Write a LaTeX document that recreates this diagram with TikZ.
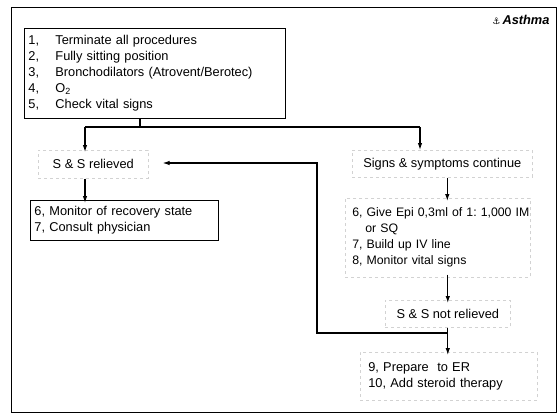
\documentclass[tikz,border=0pt]{standalone}
\usepackage{fontspec}
\setmainfont{Liberation Sans}
\newfontfamily\symfont{DejaVu Sans}
\usetikzlibrary{positioning,arrows.meta}

\begin{document}
\begin{tikzpicture}[
    x=1pt,y=-1pt,
    font=\fontsize{12.8}{16}\selectfont\frenchspacing,
    solidbox/.style={draw,line width=0.9pt,anchor=north west,align=left,inner ysep=0pt},
    faintbox/.style={draw=gray!35,dashed,line width=0.6pt,anchor=north west,align=center,inner sep=0pt},
    flow/.style={line width=1.1pt,-{Latex[length=7pt,width=4.5pt]}},
    link/.style={line width=1.1pt}
  ]
    \useasboundingbox (0,0) rectangle (558,415);
    \draw[line width=1pt] (11,7) rectangle (556,412);
    \node[anchor=east] (title) at (553,20) {{\symfont\small ⚓}\,\textbf{\textit{Asthma}}};

    \node[solidbox,minimum width=261pt,minimum height=90pt,text width=253pt,inner xsep=4pt] (first) at (24,28)
      {\begin{tabular}{@{}p{27pt}@{}l@{}}
        1, & Terminate all procedures\\
        2, & Fully sitting position\\
        3, & Bronchodilators (Atrovent/Berotec)\\
        4, & O\textsubscript{2}\\
        5, & Check vital signs
      \end{tabular}};
    \node[faintbox,minimum width=110pt,minimum height=28pt] (relieved) at (38,150) {S \& S relieved};
    \node[solidbox,minimum width=188pt,minimum height=40pt,text width=180pt,inner xsep=4pt] (recover) at (30,200)
      {6, Monitor of recovery state\\7, Consult physician};
    \node[faintbox,minimum width=180pt,minimum height=27pt] (continue) at (352,150) {Signs \& symptoms continue};
    \node[faintbox,minimum width=185pt,minimum height=79pt,text width=177pt,inner xsep=4pt,align=left,
      font=\fontsize{12.3}{16}\selectfont\frenchspacing] (epi) at (345,198)
      {\mbox{\hspace*{3pt}6, Give Epi 0,3ml of 1: 1,000 IM}\\\hspace*{16pt}or SQ\\\hspace*{3pt}7, Build up IV line\\\hspace*{3pt}8, Monitor vital signs};
    \node[faintbox,minimum width=125pt,minimum height=27pt] (notrelieved) at (385,300) {S \& S not relieved};
    \node[faintbox,minimum width=177pt,minimum height=48pt,text width=161pt,inner xsep=8pt,align=left] (er) at (360,352)
      {9, Prepare\ \ to ER\\10, Add steroid therapy};

    % branching after first aid
    \coordinate (fork) at (140,127);
    \coordinate (forkL) at (85,127);
    \coordinate (forkR) at (420,127);
    \draw[link] (first.south -| fork) -- (fork);
    \draw[link] (forkL) -- (forkR);
    \draw[flow] (forkL) -- ([yshift=-2pt]relieved.north -| forkL);
    \draw[flow] (forkR) -- (continue.north -| forkR);
    \draw[flow] (relieved.south -| forkL) -- ([yshift=-3pt]recover.north -| forkL);
    \draw[flow] ([xshift=5pt]continue.south) -- ([xshift=5pt,yshift=-3pt]continue.south |- epi.north);
    \draw[flow] ([yshift=3pt]notrelieved.north |- epi.south) -- ([yshift=-3pt]notrelieved.north);
    \draw[flow] (notrelieved.south) -- ([yshift=-3pt]er.north -| notrelieved.south);

    % back to relieved
    \coordinate (backR) at (notrelieved.south |- 0,333);
    \coordinate (backL) at (317,333);
    \coordinate (backU) at (317,163);
    \draw[flow] (backR) -- (backL) -- (backU) -- ([xshift=14pt]relieved.east |- backU);
\end{tikzpicture}
\end{document}
